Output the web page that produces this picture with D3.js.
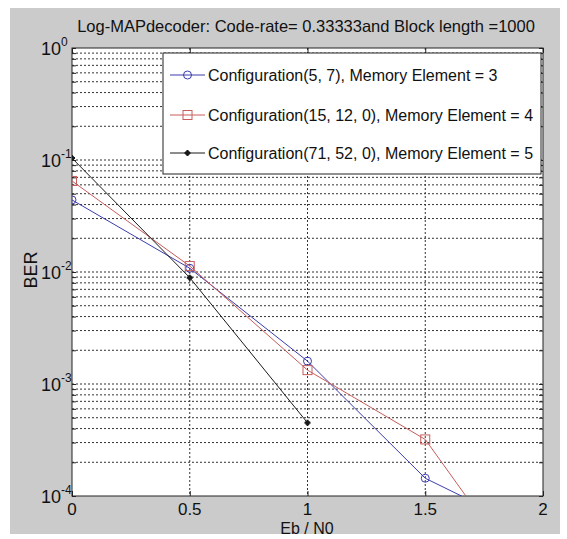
<!DOCTYPE html>
<html>
<head>
<meta charset="utf-8">
<script src="https://cdn.jsdelivr.net/npm/d3@7"></script>
<style>
  body { margin: 0; background: #fff; }
  svg { display: block; font-family: "Liberation Sans", Arial, sans-serif; }
</style>
</head>
<body>
<div id="chart"></div>
<script>
// data
var ebN0 = [0, 0.5, 1, 1.5, 2];
var ebN0Short = [0, 0.5, 1];
var berConf57 = [0.044, 0.0108, 0.0016, 0.000144, 0.000044];
var berConf15 = [0.065, 0.0113, 0.00133, 0.00032, 0.000011];
var berConf71 = [0.104, 0.0089, 0.00045];
var seriesNames = [
    "Configuration(5, 7), Memory Element = 3",
    "Configuration(15, 12, 0), Memory Element = 4",
    "Configuration(71, 52, 0), Memory Element = 5"
];
var xTicks = [0, 0.5, 1, 1.5, 2];
var yExponents = [0, -1, -2, -3, -4];

var w = 567, h = 539;
var pLeft = 72, pRight = 543, pTop = 48, pBottom = 496;

var svg = d3.select("#chart").append("svg").attr("width", w).attr("height", h);

// gray figure background
svg.append("rect").attr("x", 10).attr("y", 8).attr("width", 550).attr("height", 526).attr("fill", "#cbcbcb");

var x = d3.scaleLinear().domain([0, 2]).range([pLeft, pRight]);
var y = d3.scaleLog().domain([1e-4, 1]).range([pBottom, pTop]);

svg.append("rect").attr("x", pLeft).attr("y", pTop).attr("width", pRight - pLeft).attr("height", pBottom - pTop).attr("fill", "#fff");

// grid
var yGrid = y.ticks().filter(d => d > 1e-4 && d < 1);
svg.append("g").selectAll("line").data(yGrid).enter().append("line")
    .attr("x1", pLeft).attr("x2", pRight)
    .attr("y1", d => y(d)).attr("y2", d => y(d))
    .attr("stroke", "#333").attr("stroke-width", 1).attr("stroke-dasharray", "2,2");
svg.append("g").selectAll("line").data(xTicks.slice(1, -1)).enter().append("line")
    .attr("x1", d => x(d)).attr("x2", d => x(d))
    .attr("y1", pTop).attr("y2", pBottom)
    .attr("stroke", "#333").attr("stroke-width", 1).attr("stroke-dasharray", "2,2");

// tick marks on all four sides
var xAxisB = d3.axisBottom(x).tickValues(xTicks).tickSize(-5).tickFormat("");
var xAxisT = d3.axisTop(x).tickValues(xTicks).tickSize(-5).tickFormat("");
var yAxisL = d3.axisLeft(y).tickValues(y.ticks()).tickSize(-4).tickFormat("");
var yAxisR = d3.axisRight(y).tickValues(y.ticks()).tickSize(-4).tickFormat("");
svg.append("g").attr("transform", "translate(0," + pBottom + ")").call(xAxisB);
svg.append("g").attr("transform", "translate(0," + pTop + ")").call(xAxisT);
svg.append("g").attr("transform", "translate(" + pLeft + ",0)").call(yAxisL);
svg.append("g").attr("transform", "translate(" + pRight + ",0)").call(yAxisR);
svg.selectAll(".domain").remove();
svg.selectAll(".tick line").attr("stroke", "#222");

svg.append("rect").attr("x", pLeft).attr("y", pTop).attr("width", pRight - pLeft).attr("height", pBottom - pTop)
    .attr("fill", "none").attr("stroke", "#222").attr("stroke-width", 1);

// tick labels
svg.append("g").selectAll("text").data(xTicks).enter().append("text")
    .attr("x", d => x(d)).attr("y", 515)
    .attr("text-anchor", "middle").attr("font-size", 17).attr("fill", "#111")
    .text(d => d);

var yLab = svg.append("g").selectAll("text").data(yExponents).enter().append("text")
    .attr("x", 41).attr("y", d => y(Math.pow(10, d)) + 7)
    .attr("text-anchor", "start").attr("font-size", 18).attr("fill", "#111");
yLab.append("tspan").text("10");
yLab.append("tspan").attr("dy", -9).attr("font-size", 12).text(d => d);

// titles
svg.append("text").attr("x", 306).attr("y", 32).attr("text-anchor", "middle")
    .attr("font-size", 16.5).attr("fill", "#111")
    .text("Log-MAPdecoder: Code-rate= 0.33333and Block length =1000");
svg.append("text").attr("x", 307).attr("y", 534).attr("text-anchor", "middle")
    .attr("font-size", 16).attr("fill", "#111").text("Eb / N0");
svg.append("text").attr("transform", "translate(37,270) rotate(-90)").attr("text-anchor", "middle")
    .attr("font-size", 18).attr("fill", "#111").text("BER");

// series
var series = [
    { xs: ebN0, ys: berConf57, color: "#3c3cae", marker: "circle" },
    { xs: ebN0, ys: berConf15, color: "#c85c5c", marker: "square" },
    { xs: ebN0Short, ys: berConf71, color: "#1a1a1a", marker: "star" }
];

svg.append("clipPath").attr("id", "plotClip").append("rect")
    .attr("x", pLeft).attr("y", pTop).attr("width", pRight - pLeft).attr("height", pBottom - pTop);

var line = d3.line().x(d => x(d[0])).y(d => y(d[1]));
var plot = svg.append("g").attr("clip-path", "url(#plotClip)");

function drawMarker(g, type, cx, cy, color) {
    if (type === "circle") {
        g.append("circle").attr("cx", cx).attr("cy", cy).attr("r", 4)
            .attr("fill", "none").attr("stroke", color).attr("stroke-width", 1);
    } else if (type === "square") {
        g.append("rect").attr("x", cx - 4.5).attr("y", cy - 4.5).attr("width", 9).attr("height", 9)
            .attr("fill", "none").attr("stroke", color).attr("stroke-width", 1);
    } else {
        g.append("path").attr("d", d3.symbol(d3.symbolCross, 20)())
            .attr("transform", "translate(" + cx + "," + cy + ")").attr("fill", color);
        g.append("path").attr("d", d3.symbol(d3.symbolCross, 14)())
            .attr("transform", "translate(" + cx + "," + cy + ") rotate(45)").attr("fill", color);
    }
}

series.forEach(s => {
    var pts = s.xs.map((v, i) => [v, s.ys[i]]);
    plot.append("path").datum(pts).attr("d", line)
        .attr("fill", "none").attr("stroke", s.color).attr("stroke-width", 1);
    pts.forEach(p => drawMarker(plot, s.marker, x(p[0]), y(p[1]), s.color));
});

// legend
var lg = svg.append("g");
lg.append("rect").attr("x", 163).attr("y", 53).attr("width", 378).attr("height", 121)
    .attr("fill", "#fff").attr("stroke", "#222").attr("stroke-width", 1);
var rowY = [75, 115, 153];
series.forEach((s, i) => {
    lg.append("line").attr("x1", 170).attr("x2", 205).attr("y1", rowY[i]).attr("y2", rowY[i])
        .attr("stroke", s.color).attr("stroke-width", 1);
    drawMarker(lg, s.marker, 187.5, rowY[i], s.color);
    lg.append("text").attr("x", 208).attr("y", rowY[i] + 6)
        .attr("font-size", 16).attr("fill", "#111").text(seriesNames[i]);
});
</script>
</body>
</html>
